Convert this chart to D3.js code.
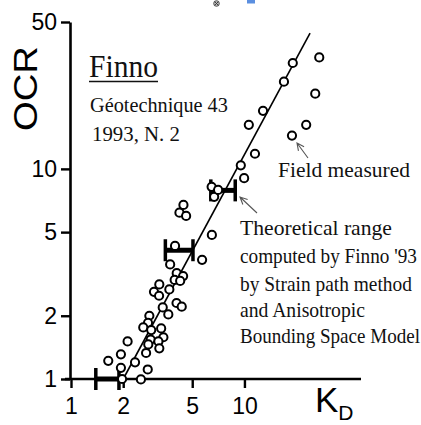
<!DOCTYPE html>
<html>
<head>
<meta charset="utf-8">
<script src="https://cdn.jsdelivr.net/npm/d3@7"></script>
<style>
  html, body { margin: 0; padding: 0; background: #fff; }
  svg { display: block; }
</style>
</head>
<body>
<svg id="chart" width="421" height="425"></svg>
<script>
// Field-measured OCR vs K_D (DMT) data points
const kdValues  = [27.0, 19.0, 16.9, 25.6, 12.8, 10.6, 22.7, 18.8, 11.5, 9.53, 9.96,
                   6.47, 6.69, 7.05, 4.45, 4.22, 4.61, 6.49, 3.98, 5.70, 3.73,
                   4.07, 4.43, 3.96, 4.26, 3.23, 3.01, 3.22, 3.69, 4.06, 4.35,
                   3.38, 3.64, 2.83, 2.78, 2.61, 3.31, 2.90, 3.41, 2.88, 3.19,
                   2.12, 2.79, 3.23, 2.71, 1.94, 1.64, 2.34, 1.94, 2.77, 1.97, 2.53];
const ocrValues = [33.9, 31.9, 26.0, 22.8, 18.9, 16.2, 16.2, 14.4, 11.8, 10.4, 9.03,
                   8.21, 7.36, 7.94, 6.74, 6.19, 5.97, 4.85, 4.30, 3.69, 3.51,
                   3.19, 3.09, 2.96, 2.93, 2.82, 2.60, 2.49, 2.67, 2.30, 2.21,
                   2.19, 2.03, 2.00, 1.85, 1.76, 1.74, 1.71, 1.58, 1.54, 1.51,
                   1.51, 1.46, 1.40, 1.33, 1.31, 1.22, 1.20, 1.13, 1.11, 1.00, 0.995];

// Theoretical range (Finno '93): OCR level with K_D lower / upper bound
const rangeOcr  = [1.0, 4.1, 7.9];
const rangeKdLo = [1.39, 3.50, 6.40];
const rangeKdHi = [1.89, 5.05, 8.85];

// Correlation line end points (K_D, OCR)
const lineKd  = [2.0, 23.9];
const lineOcr = [1.0, 44.3];

// Axis tick values
const xTicks = [1, 2, 5, 10];
const yTicks = [1, 2, 5, 10, 50];

const svg = d3.select("#chart");

const x = d3.scaleLog().domain([1, 47]).range([71, 361]);
const y = d3.scaleLog().domain([1, 50]).range([379, 22]);

const sans = "'Liberation Sans', Arial, Helvetica, sans-serif";
const serif = "'Liberation Serif', 'Times New Roman', serif";

// decorations along the top edge
svg.append("circle").attr("cx", 216.5).attr("cy", 3.5).attr("r", 2.8)
  .attr("fill", "#bbb").attr("stroke", "#555").attr("stroke-width", 1);
svg.append("path").attr("d", "M214.6,1.6L218.4,5.4M218.4,1.6L214.6,5.4")
  .attr("stroke", "#333").attr("stroke-width", 0.9);
svg.append("rect").attr("x", 247).attr("y", 0).attr("width", 8).attr("height", 3.5)
  .attr("fill", "#5b8fe0");

// axes
const yAxis = d3.axisLeft(y).tickValues(yTicks).tickFormat(d3.format("d"))
  .tickSize(9).tickSizeOuter(0).tickPadding(4);
const xAxis = d3.axisBottom(x).tickValues(xTicks).tickFormat(d3.format("d"))
  .tickSize(9).tickSizeOuter(0).tickPadding(10);

const gy = svg.append("g").attr("transform", `translate(${x(1) - 1},0)`).call(yAxis);
const gx = svg.append("g").attr("transform", `translate(0,${y(1)})`).call(xAxis);

[gx, gy].forEach(g => {
  g.select(".domain").attr("stroke", "#000").attr("stroke-width", 2.6);
  g.selectAll(".tick line").attr("stroke", "#000").attr("stroke-width", 2.4);
  g.selectAll(".tick text").attr("fill", "#000")
    .style("font-family", sans).style("font-size", "23px");
});
// extend the x axis line slightly left past the y axis
gx.select(".domain").attr("d", `M${x(1) - 6},0H${x(47)}`);

// axis titles
svg.append("text")
  .attr("transform", "translate(37,131) rotate(-90)")
  .attr("textLength", 85).attr("lengthAdjust", "spacingAndGlyphs")
  .style("font-family", sans).style("font-size", "34px").attr("fill", "#000")
  .text("OCR");
const kd = svg.append("text").attr("x", 315).attr("y", 412)
  .style("font-family", sans).attr("fill", "#000");
kd.append("tspan").style("font-size", "35px").text("K");
kd.append("tspan").attr("dy", 8).style("font-size", "21px").text("D");

// correlation line
svg.append("line")
  .attr("x1", x(lineKd[0])).attr("y1", y(lineOcr[0]))
  .attr("x2", x(lineKd[1])).attr("y2", y(lineOcr[1]))
  .attr("stroke", "#000").attr("stroke-width", 1.6);

// theoretical range bars
const ranges = rangeOcr.map((o, i) => ({ ocr: o, lo: rangeKdLo[i], hi: rangeKdHi[i] }));
const rg = svg.append("g").attr("stroke", "#000");
rg.selectAll(".bar").data(ranges).join("line")
  .attr("x1", d => x(d.lo)).attr("x2", d => x(d.hi))
  .attr("y1", d => y(d.ocr)).attr("y2", d => y(d.ocr))
  .attr("stroke-width", 5);
rg.selectAll(".capLo").data(ranges).join("line")
  .attr("x1", d => x(d.lo)).attr("x2", d => x(d.lo))
  .attr("y1", d => y(d.ocr) - 11).attr("y2", d => y(d.ocr) + 11)
  .attr("stroke-width", 3.5);
rg.selectAll(".capHi").data(ranges).join("line")
  .attr("x1", d => x(d.hi)).attr("x2", d => x(d.hi))
  .attr("y1", d => y(d.ocr) - 11).attr("y2", d => y(d.ocr) + 11)
  .attr("stroke-width", 3.5);

// field measured points
const pts = kdValues.map((k, i) => ({ kd: k, ocr: ocrValues[i] }));
svg.append("g").selectAll("circle").data(pts).join("circle")
  .attr("cx", d => x(d.kd)).attr("cy", d => y(d.ocr)).attr("r", 4.1)
  .attr("fill", "#fff").attr("stroke", "#000").attr("stroke-width", 2);

// annotation texts: condensed horizontally to a given width
function label(txt, px, py, size, width) {
  const t = svg.append("text").attr("x", 0).attr("y", 0)
    .style("font-family", serif).style("font-size", size + "px")
    .attr("fill", "#111").text(txt);
  const natural = t.node().getComputedTextLength();
  t.attr("transform", `translate(${px},${py}) scale(${width / natural},1)`);
  return t;
}
label("Finno", 89, 77, 31, 69);
svg.append("line").attr("x1", 89).attr("x2", 158).attr("y1", 81.5).attr("y2", 81.5)
  .attr("stroke", "#111").attr("stroke-width", 1.5);
label("Géotechnique 43", 90, 112, 22, 138);
label("1993, N. 2", 92, 141, 22, 88);
label("Field measured", 278, 177, 22, 132);
label("Theoretical range", 240, 235, 22, 152);
label("computed by Finno '93", 240, 263, 22, 177);
label("by Strain path method", 240, 291, 22, 172);
label("and Anisotropic", 240, 317, 22, 125);
label("Bounding Space Model", 240, 343, 22, 180);

// pointer arrows
function arrow(x1, y1, x2, y2) {
  const a = Math.atan2(y2 - y1, x2 - x1), L = 8, s = 0.45;
  const p = `M${x1},${y1}L${x2},${y2}` +
    `M${x2 - L * Math.cos(a - s)},${y2 - L * Math.sin(a - s)}L${x2},${y2}` +
    `L${x2 - L * Math.cos(a + s)},${y2 - L * Math.sin(a + s)}`;
  svg.append("path").attr("d", p).attr("fill", "none")
    .attr("stroke", "#555").attr("stroke-width", 1.1);
}
arrow(308, 158, 297, 143);
arrow(257, 213, 240, 197);
</script>
</body>
</html>
